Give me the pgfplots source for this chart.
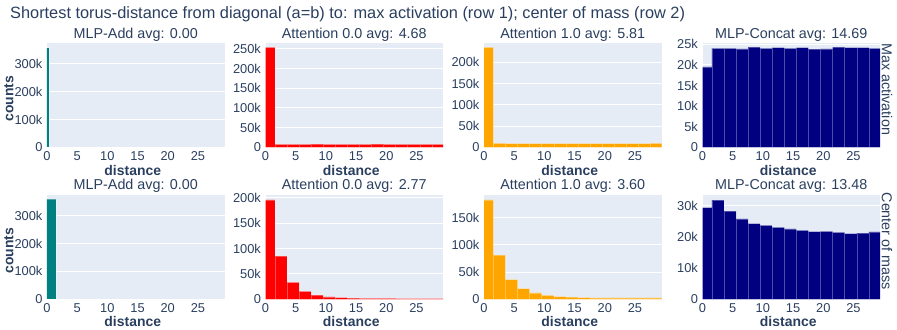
\documentclass[border=0pt]{standalone}
\usepackage{pgfplots}
\pgfplotsset{compat=1.18}
\usepackage{fontspec}
\setmainfont{Liberation Sans}
\definecolor{bgc}{HTML}{E5ECF6}
\definecolor{tc}{HTML}{2A3F5F}
\definecolor{cteal}{HTML}{008080}
\definecolor{cred}{HTML}{FF0000}
\definecolor{corange}{HTML}{FFA500}
\definecolor{cnavy}{HTML}{000080}
\newcommand{\tickf}{\fontsize{12.9}{13}\selectfont}
\newcommand{\subf}{\fontsize{14.4}{15}\selectfont}
\newcommand{\labf}{\fontsize{14}{15}\selectfont\bfseries}
\pgfplotsset{
  panel/.style={
    scale only axis, width=177.5bp, height=104.7bp,
    anchor=south west,
    xmin=0, xmax=29.4, ymin=0,
    axis background/.style={fill=bgc},
    axis line style={draw=none},
    ymajorgrids, grid style={white, line width=0.9bp},
    major tick length=0pt,
    xtick={0,5,10,15,20,25}, xticklabels={0,5,10,15,20,25},
    tick label style={font=\tickf, text=tc},
    xticklabel style={anchor=base, yshift=-13.4bp, inner sep=0pt},
    yticklabel style={anchor=east, xshift=-4.4bp, inner sep=0pt},
  },
  bar/.style={ybar interval, draw=white, draw opacity=0.3, line width=0.4bp},
}
\begin{document}
\begin{tikzpicture}
\useasboundingbox (0,0) rectangle (897bp,330bp);
% ---------------- Row 1: max activation ----------------
\begin{axis}[panel, at={(47bp,182.7bp)}, ymax=376, ytick={0,100,200,300}, yticklabels={0,100k,200k,300k}]
\addplot[bar, fill=cteal] coordinates {(-0.45,358) (0.4,358)};
\end{axis}
\begin{axis}[panel, at={(265.5bp,182.7bp)}, ymax=266, ytick={0,50,100,150,200,250}, yticklabels={0,50k,100k,150k,200k,250k}]
\addplot[bar, fill=cred] coordinates {
(-0.45,254) (1.55,7.2) (3.55,7.3) (5.55,7.3) (7.55,7.9) (9.55,7.3) (11.55,7.2) (13.55,7.4)
(15.55,7.3) (17.55,7.8) (19.55,7.3) (21.55,7.2) (23.55,7.4) (25.55,7.7) (27.55,7.4) (29.55,7.4)};
\end{axis}
\begin{axis}[panel, at={(484bp,182.7bp)}, ymax=246, ytick={0,50,100,150,200}, yticklabels={0,50k,100k,150k,200k}]
\addplot[bar, fill=corange] coordinates {
(-0.45,234.5) (1.55,9.2) (3.55,8.7) (5.55,8.7) (7.55,8.9) (9.55,8.7) (11.55,8.7) (13.55,8.8)
(15.55,8.9) (17.55,8.7) (19.55,8.7) (21.55,8.7) (23.55,8.9) (25.55,8.8) (27.55,9.0) (29.55,9.0)};
\end{axis}
\begin{axis}[panel, at={(702.5bp,182.7bp)}, ymax=25.4, ytick={0,5,10,15,20,25}, yticklabels={0,5k,10k,15k,20k,25k}]
\addplot[bar, fill=cnavy] coordinates {
(-0.45,19.5) (1.55,24.0) (3.55,24.0) (5.55,23.9) (7.55,24.3) (9.55,24.0) (11.55,24.2) (13.55,24.0)
(15.55,24.2) (17.55,23.8) (19.55,23.9) (21.55,24.3) (23.55,24.2) (25.55,24.2) (27.55,24.0) (29.55,24.0)};
\end{axis}
% ---------------- Row 2: center of mass ----------------
\begin{axis}[panel, at={(47bp,30.7bp)}, ymax=375, ytick={0,100,200,300}, yticklabels={0,100k,200k,300k}]
\addplot[bar, fill=cteal] coordinates {(-0.45,357.6) (1.55,357.6)};
\end{axis}
\begin{axis}[panel, at={(265.5bp,30.7bp)}, ymax=206, ytick={0,50,100,150,200}, yticklabels={0,50k,100k,150k,200k}]
\addplot[bar, fill=cred] coordinates {
(-0.45,195.4) (1.55,85.0) (3.55,33.3) (5.55,15.7) (7.55,8.0) (9.55,5.0) (11.55,3.2) (13.55,2.4)
(15.55,2.0) (17.55,1.8) (19.55,1.6) (21.55,1.5) (23.55,1.4) (25.55,1.4) (27.55,1.3) (29.55,1.3)};
\end{axis}
\begin{axis}[panel, at={(484bp,30.7bp)}, ymax=192, ytick={0,50,100,150}, yticklabels={0,50k,100k,150k}]
\addplot[bar, fill=corange] coordinates {
(-0.45,182.3) (1.55,81.1) (3.55,36.0) (5.55,19.5) (7.55,11.6) (9.55,7.3) (11.55,4.9) (13.55,3.9)
(15.55,3.2) (17.55,2.8) (19.55,2.6) (21.55,2.5) (23.55,2.4) (25.55,2.4) (27.55,2.4) (29.55,2.4)};
\end{axis}
\begin{axis}[panel, at={(702.5bp,30.7bp)}, ymax=33.6, ytick={0,10,20,30}, yticklabels={0,10k,20k,30k}]
\addplot[bar, fill=cnavy] coordinates {
(-0.45,29.4) (1.55,31.8) (3.55,28.3) (5.55,25.8) (7.55,24.3) (9.55,23.7) (11.55,23.1) (13.55,22.6)
(15.55,22.1) (17.55,21.7) (19.55,21.8) (21.55,21.5) (23.55,21.1) (25.55,21.2) (27.55,21.6) (29.55,21.6)};
\end{axis}
% ---------------- Texts ----------------
\node[anchor=base west, font=\fontsize{16.4}{17}\selectfont, text=tc, inner sep=0pt] at (10bp,311bp)
  {Shortest torus-distance from diagonal (a=b) to: max activation (row 1); center of mass (row 2)};
\foreach \cx/\ta/\tb in {135.75/{MLP-Add avg: 0.00}/{MLP-Add avg: 0.00},
                         354.25/{Attention 0.0 avg: 4.68}/{Attention 0.0 avg: 2.77},
                         572.75/{Attention 1.0 avg: 5.81}/{Attention 1.0 avg: 3.60},
                         791.25/{MLP-Concat avg: 14.69}/{MLP-Concat avg: 13.48}} {
  \node[anchor=base, font=\subf, text=tc, inner sep=0pt] at (\cx bp,291.5bp) {\ta};
  \node[anchor=base, font=\subf, text=tc, inner sep=0pt] at (\cx bp,140bp) {\tb};
  \node[anchor=base, font=\labf, text=tc, inner sep=0pt] at (\cx bp-3bp,154.5bp) {distance};
  \node[anchor=base, font=\labf, text=tc, inner sep=0pt] at (\cx bp-3bp,3.5bp) {distance};
}
\node[rotate=90, anchor=center, font=\labf, text=tc, inner sep=0pt] at (9bp,231.3bp) {counts};
\node[rotate=90, anchor=center, font=\labf, text=tc, inner sep=0pt] at (9bp,79.5bp) {counts};
\node[rotate=-90, anchor=center, font=\subf, text=tc, inner sep=0pt] at (887bp,240.8bp) {Max activation};
\node[rotate=-90, anchor=center, font=\subf, text=tc, inner sep=0pt] at (887bp,88.7bp) {Center of mass};
\end{tikzpicture}
\end{document}
